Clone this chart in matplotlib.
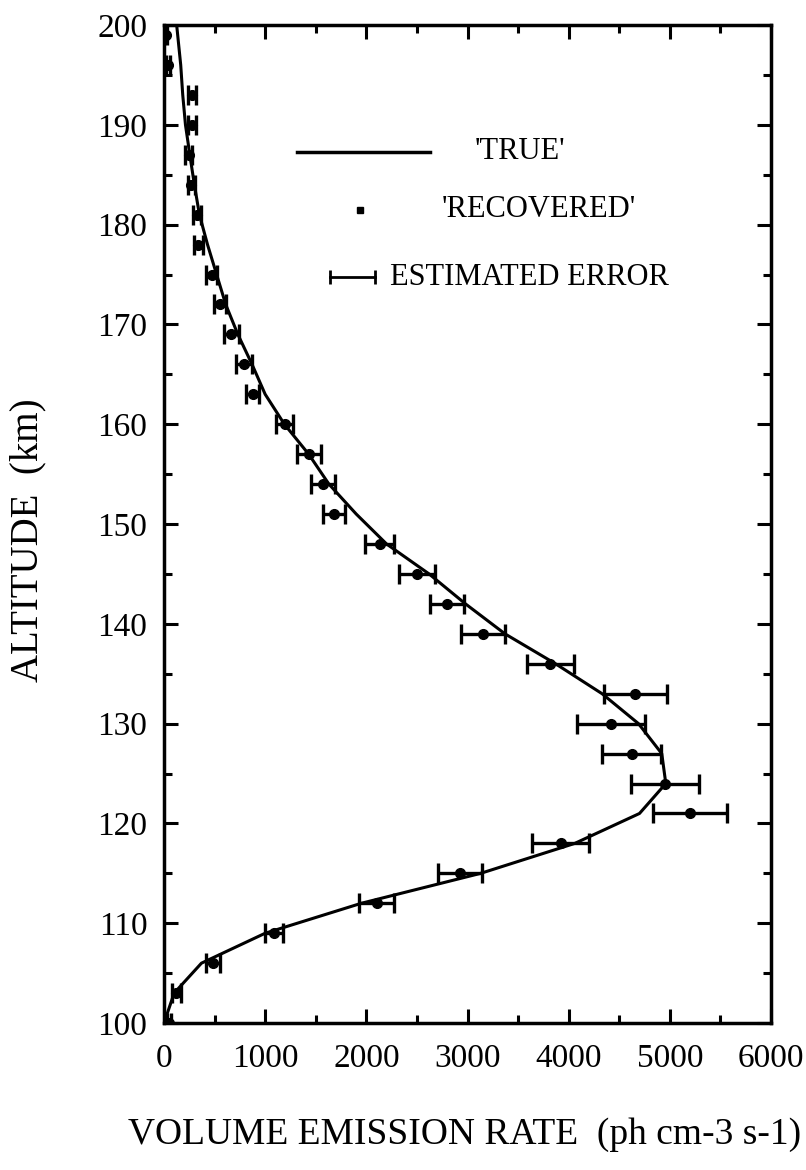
import matplotlib
matplotlib.use('Agg')
import matplotlib.pyplot as plt
from matplotlib.ticker import MultipleLocator

plt.rcParams['font.family'] = ['Liberation Serif', 'DejaVu Serif']

# retrieval grid (km)
altitude = [100, 103, 106, 109, 112, 115, 118, 121, 124, 127, 130, 133,
            136, 139, 142, 145, 148, 151, 154, 157, 160, 163, 166, 169,
            172, 175, 178, 181, 184, 187, 190, 193, 196, 199]

# model profile used to simulate the measurements
true_alt = [100, 103, 106, 109, 112, 115, 118, 121, 124, 127, 130, 133,
            136, 139, 142, 145, 148, 151, 154, 157, 160, 163, 166, 169,
            172, 175, 178, 181, 184, 187, 190, 193, 196, 199, 200]
true_ver = [0, 100, 370, 1000, 1950, 3130, 4060, 4700, 4960, 4920, 4690, 4330,
            3870, 3370, 2980, 2620, 2200, 1900, 1630, 1430, 1190, 1000, 870, 730,
            610, 520, 430, 350, 300, 255, 212, 185, 165, 135, 125]

# inverted profile and its 1-sigma error
recovered_ver = [50, 123, 484, 1087, 2105, 2929, 3922, 5201, 4951, 4621, 4419, 4660,
                 3817, 3151, 2800, 2500, 2130, 1681, 1569, 1436, 1194, 875, 790, 667,
                 555, 472, 339, 324, 270, 246, 281, 277, 36, 17]
error_ver = [20, 40, 65, 90, 173, 217, 280, 365, 335, 296, 335, 310,
             232, 217, 170, 178, 143, 112, 120, 118, 84, 65, 75, 70,
             60, 55, 45, 40, 35, 35, 40, 40, 20, 15]

fig = plt.figure(figsize=(8.06, 11.7), dpi=100)
ax = fig.add_axes([0.2035, 0.1256, 0.7531, 0.853])

ax.plot(true_ver, true_alt, color='black', lw=2.2)
ax.errorbar(recovered_ver, altitude, xerr=error_ver, fmt='o', color='black',
            ms=7, elinewidth=2.4, capsize=7, capthick=2.4)

ax.set_xlim(0, 6000)
ax.set_ylim(100, 200)
ax.xaxis.set_major_locator(MultipleLocator(1000))
ax.xaxis.set_minor_locator(MultipleLocator(500))
ax.yaxis.set_major_locator(MultipleLocator(10))
ax.yaxis.set_minor_locator(MultipleLocator(5))
ax.tick_params(which='both', direction='in', top=True, right=True, width=2.2)
ax.tick_params(which='major', length=10, labelsize=24)
ax.tick_params(axis='x', which='major', pad=15)
ax.tick_params(axis='y', which='major', pad=12)
ax.tick_params(which='minor', length=6)
for s in ax.spines.values():
    s.set_linewidth(2.5)

# hand-placed key
ax.plot([0.219, 0.438], [0.873, 0.873], transform=ax.transAxes, color='black', lw=2.5)
ax.text(0.512, 0.873, "'TRUE'", transform=ax.transAxes, va='center', ha='left', fontsize=22)
ax.plot([0.323], [0.815], 's', transform=ax.transAxes, color='black', ms=5)
ax.text(0.458, 0.815, "'RECOVERED'", transform=ax.transAxes, va='center', ha='left', fontsize=22)
ax.plot([0.273, 0.348], [0.7475, 0.7475], transform=ax.transAxes, color='black', lw=2,
        marker='|', ms=10, mew=2)
ax.text(0.372, 0.7475, "ESTIMATED ERROR", transform=ax.transAxes, va='center', ha='left', fontsize=22)

fig.text(28 / 806, 1 - 540 / 1170, 'ALTITUDE  (km)', rotation=90, ha='center', va='center', fontsize=28)
fig.text(465 / 806, 1 - 1135 / 1170, 'VOLUME EMISSION RATE  (ph cm-3 s-1)', ha='center', va='center', fontsize=27)

fig.savefig('out.png', dpi=100)
